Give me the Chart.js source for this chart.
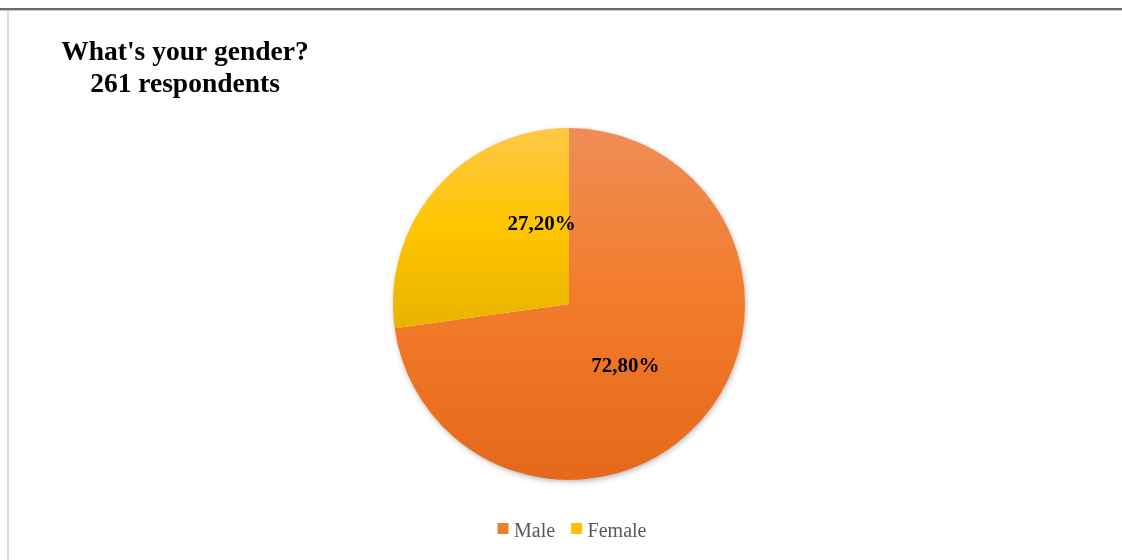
<!DOCTYPE html>
<html lang="en">
<head>
  <meta charset="UTF-8" />
  <title>What's your gender?</title>
  <script src="https://cdn.jsdelivr.net/npm/chart.js@4.4.0/dist/chart.umd.min.js"></script>
  <style>
    html, body { margin: 0; padding: 0; background: #fff; }
    #wrap { position: relative; width: 1122px; height: 560px; }
  </style>
</head>
<body>
  <div id="wrap"><canvas id="genderChart" width="1122" height="560"></canvas></div>
  <script>
    const titleLines = ["What's your gender?", "261 respondents"];
    const labels = ["Male", "Female"];
    const shares = [72.8, 27.2];
    const percentLabels = ["72,80%", "27,20%"];
    const legendColors = ["#ED7D31", "#FFC000"];
    // light / base / shade per slice (office-style gradient)
    const gradientStops = [["#F08D55", "#F27B2A", "#E5681B"], ["#FFC746", "#FFC500", "#E8B300"]];
    const PIE_RADIUS = 176;
    const SERIF = "'Liberation Serif', 'Times New Roman', serif";
    // excel "best fit" puts the labels a bit off the slice middle
    const labelTurn = [7 * Math.PI / 180, 30 * Math.PI / 180];

    const decor = {
      id: "decor",
      beforeDraw(chart) {
        const c = chart.ctx;
        c.save();
        c.fillStyle = "#d9d9d9";
        c.fillRect(7, 10, 2, chart.height - 10);
        c.fillStyle = "#6b6b6b";
        c.fillRect(0, 8, chart.width, 2);
        c.fillStyle = "#c8c8c8";
        c.fillRect(0, 10, chart.width, 1);
        c.restore();
      },
      beforeDatasetsDraw(chart) {
        // soft shadow under the pie
        const a = chart.chartArea;
        const c = chart.ctx;
        c.save();
        c.shadowColor = "rgba(0,0,0,0.35)";
        c.shadowBlur = 6;
        c.shadowOffsetX = 1;
        c.shadowOffsetY = 2;
        c.fillStyle = "#fff";
        c.beginPath();
        c.arc((a.left + a.right) / 2, (a.top + a.bottom) / 2, PIE_RADIUS - 1, 0, Math.PI * 2);
        c.fill();
        c.restore();
      },
      afterDatasetsDraw(chart) {
        const c = chart.ctx;
        const a = chart.chartArea;
        c.save();
        c.fillStyle = "#000";
        c.textAlign = "center";
        c.textBaseline = "alphabetic";
        c.font = "bold 27.5px " + SERIF;
        titleLines.forEach((t, i) => c.fillText(t, 185, 60 + i * 32));

        c.textBaseline = "middle";
        c.font = "bold 21px " + SERIF;
        chart.getDatasetMeta(0).data.forEach((arc, i) => {
          const p = arc.getProps(["x", "y", "startAngle", "endAngle", "outerRadius"], true);
          const ang = (p.startAngle + p.endAngle) / 2 + labelTurn[i];
          const r = p.outerRadius * 0.48;
          c.fillText(percentLabels[i], p.x + Math.cos(ang) * r, p.y + Math.sin(ang) * r);
        });

        // legend
        c.font = "20px " + SERIF;
        c.textAlign = "left";
        c.textBaseline = "alphabetic";
        const box = 11, gap = 5.5, between = 16;
        const widths = labels.map(l => c.measureText(l).width);
        const total = widths.reduce((s, w) => s + box + gap + w, 0) + between * (labels.length - 1);
        let x = (a.left + a.right) / 2 + 3 - total / 2;
        const base = 537;
        labels.forEach((l, i) => {
          c.fillStyle = legendColors[i];
          c.fillRect(x, base - 14, box, box);
          c.fillStyle = "#595959";
          c.fillText(l, x + box + gap, base);
          x += box + gap + widths[i] + between;
        });
        c.restore();
      }
    };

    // gradient over each slice's own bounding box, like Office does
    function sliceFill(ctx) {
      const chart = ctx.chart;
      const area = chart.chartArea;
      const i = ctx.dataIndex;
      if (!area || !isFinite(area.top)) return legendColors[i];
      const cy = (area.top + area.bottom) / 2;
      const sum = shares.reduce((s, v) => s + v, 0);
      const before = shares.slice(0, i).reduce((s, v) => s + v, 0);
      const a0 = -Math.PI / 2 + before / sum * Math.PI * 2;
      const a1 = a0 + shares[i] / sum * Math.PI * 2;
      let ys = [cy, cy + Math.sin(a0) * PIE_RADIUS, cy + Math.sin(a1) * PIE_RADIUS];
      [Math.PI / 2, Math.PI * 1.5, Math.PI * 2.5].forEach(k => {
        if (k > a0 && k < a1) ys.push(cy + Math.sin(k) * PIE_RADIUS);
      });
      if (a0 <= -Math.PI / 2 + 1e-9 || a1 >= Math.PI * 1.5 - 1e-9) ys.push(cy - PIE_RADIUS);
      const top = Math.min(...ys), bottom = Math.max(...ys);
      const stops = gradientStops[i];
      const g = chart.ctx.createLinearGradient(0, top, 0, bottom);
      g.addColorStop(0, stops[0]);
      g.addColorStop(0.5, stops[1]);
      g.addColorStop(1, stops[2]);
      return g;
    }

    new Chart(document.getElementById("genderChart"), {
      type: "pie",
      data: {
        labels: labels,
        datasets: [{
          data: shares,
          backgroundColor: sliceFill,
          borderWidth: 0,
          radius: PIE_RADIUS
        }]
      },
      options: {
        responsive: false,
        animation: false,
        layout: { padding: { top: 96.5, bottom: 48.5, left: 16, right: 0 } },
        plugins: {
          title: { display: false },
          tooltip: { enabled: false },
          legend: { display: false }
        }
      },
      plugins: [decor]
    });
  </script>
</body>
</html>
